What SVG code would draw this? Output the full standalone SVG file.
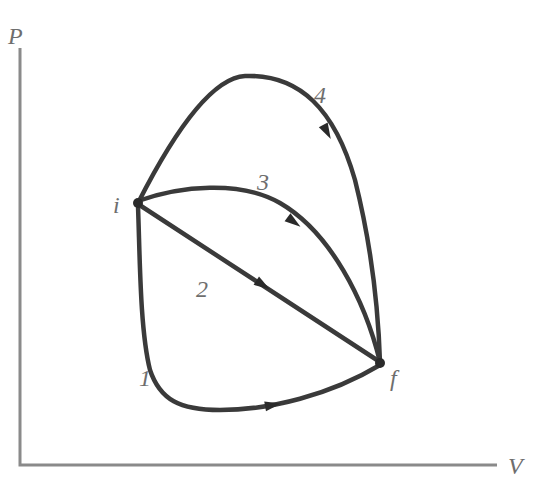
<svg xmlns="http://www.w3.org/2000/svg" width="537" height="485" viewBox="0 0 537 485">
<style>
.ax{stroke:#8a8a8a;stroke-width:3;fill:none}
.pr{stroke:#3a3a3a;stroke-width:4.5;fill:none;stroke-linecap:round}
.ah{fill:#2a2a2a}
.lb{font-family:"Liberation Serif",serif;font-style:italic;font-size:24px;fill:#6e6e6e}
</style>
<rect width="537" height="485" fill="#fff"/>
<g id="axes">
<path class="ax" d="M20,48 V465 H497"/>
<text class="lb" x="8" y="44">P</text>
<text class="lb" x="508" y="474">V</text>
</g>
<g id="connectors">
<path id="p4" class="pr" d="M138,203 C170,140 210,78 245,76 C300,74 335,110 355,180 C370,240 378,300 380,362"/>
<path id="p3" class="pr" d="M138,201 C180,186 240,180 280,203 C330,232 365,300 380,362"/>
<path id="p2" class="pr" d="M138,204 L380,362"/>
<path id="p1" class="pr" d="M138,206 C140,260 140,330 150,370 C160,400 180,410 220,410 C270,410 330,395 380,365"/>
<polygon class="ah" points="-8,-5 8,0 -8,5" transform="translate(327,132) rotate(62)"/>
<polygon class="ah" points="-8,-5 8,0 -8,5" transform="translate(294,222) rotate(36)"/>
<polygon class="ah" points="-8,-5 8,0 -8,5" transform="translate(263,285) rotate(33)"/>
<polygon class="ah" points="-8,-5 8,0 -8,5" transform="translate(273,405) rotate(-10)"/>
</g>
<g id="node-i">
<circle cx="138" cy="203" r="5" fill="#2a2a2a"/>
<text class="lb" x="113" y="213">i</text>
</g>
<g id="node-f">
<circle cx="380" cy="363" r="5" fill="#2a2a2a"/>
<text class="lb" x="390" y="386">f</text>
</g>
<g id="labels">
<text class="lb" x="314" y="103">4</text>
<text class="lb" x="257" y="190">3</text>
<text class="lb" x="196" y="297">2</text>
<text class="lb" x="139" y="386">1</text>
</g>
</svg>
